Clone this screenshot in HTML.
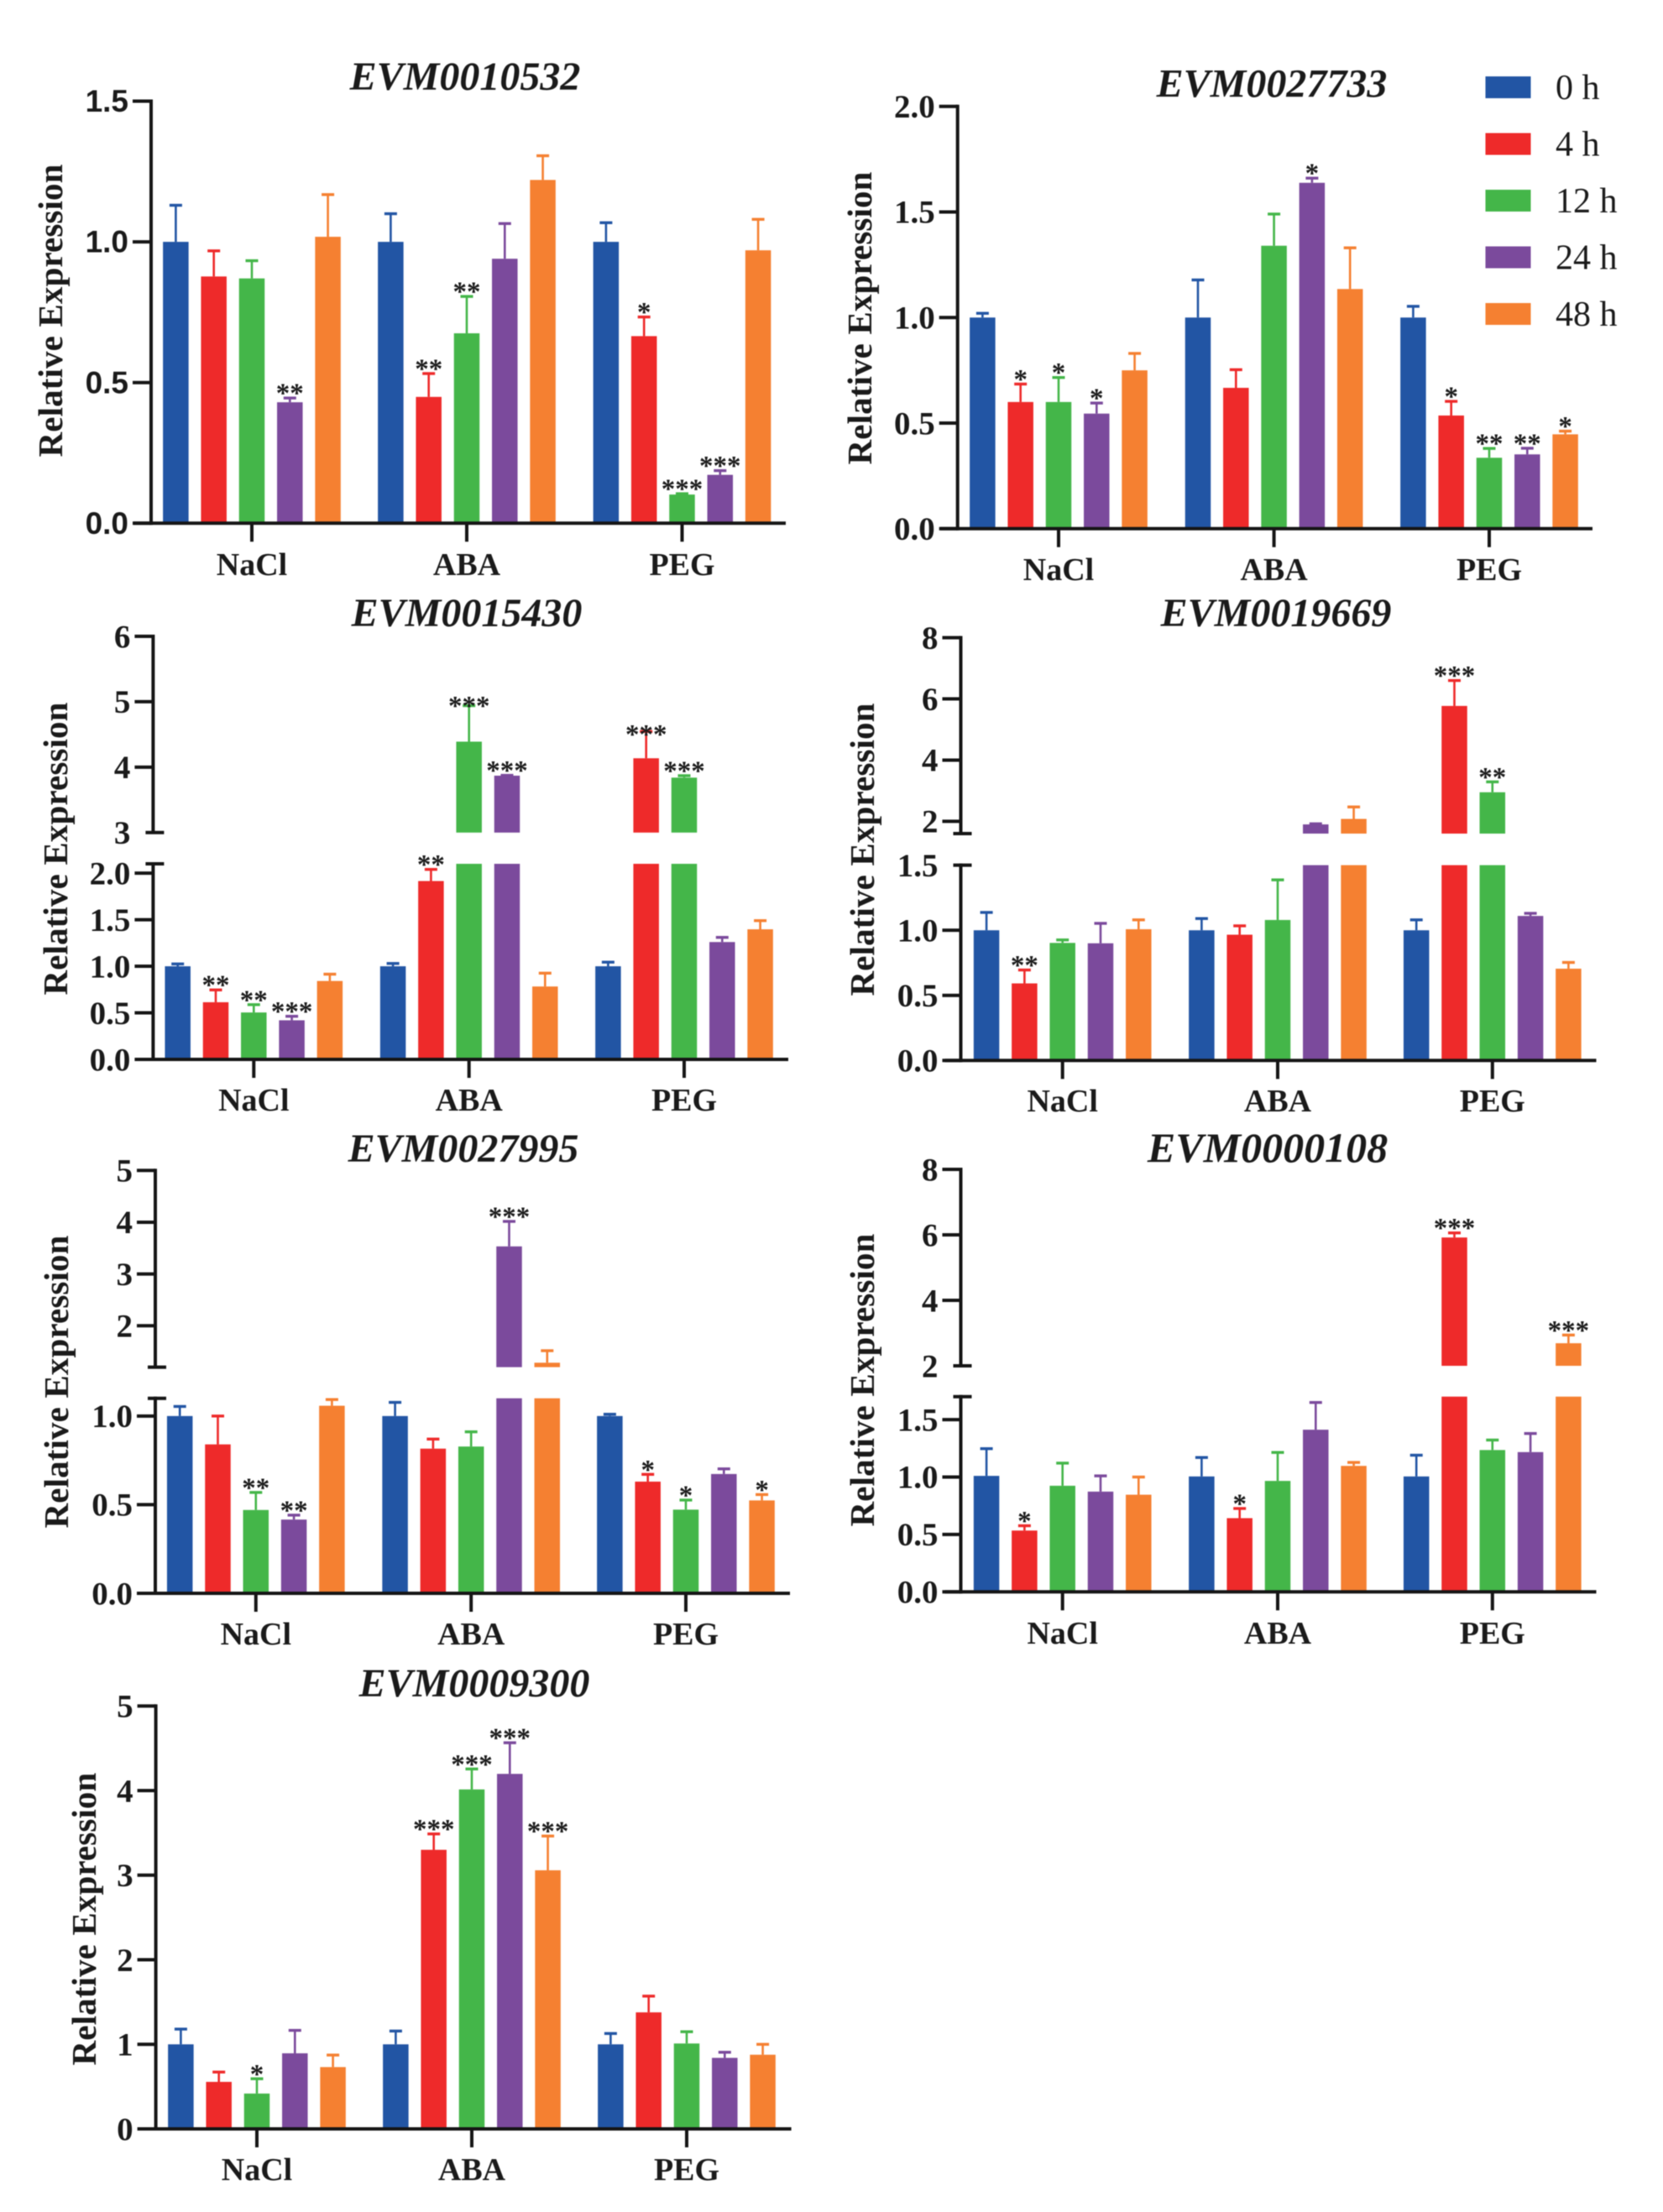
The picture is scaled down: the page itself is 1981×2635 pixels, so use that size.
<!DOCTYPE html>
<html lang="en">
<head>
<meta charset="utf-8">
<title>Relative Expression of EVM genes</title>
<style>
html,body{margin:0;padding:0;background:#fff;}
body{width:1981px;height:2635px;overflow:hidden;}
svg{display:block;filter:blur(0.6px);}
text{fill:#1a1a1a;}
</style>
</head>
<body>
<svg id="figure" xmlns="http://www.w3.org/2000/svg" width="1981" height="2635" viewBox="0 0 1981 2635"></svg>
<script>
const categories = ['NaCl', 'ABA', 'PEG'];
const timepoints = ['0 h', '4 h', '12 h', '24 h', '48 h'];
const seriesColors = ['#2255A4', '#EE2A2A', '#44B649', '#7B4A9C', '#F58031'];

const titles = ['EVM0010532', 'EVM0027733', 'EVM0015430', 'EVM0019669', 'EVM0027995', 'EVM0000108', 'EVM0009300'];

const means1 = [[1.0, 0.877, 0.87, 0.43, 1.018], [1.0, 0.449, 0.675, 0.94, 1.22], [1.0, 0.665, 0.102, 0.172, 0.97]];
const errTop1 = [[1.13, 0.968, 0.933, 0.445, 1.168], [1.10, 0.532, 0.806, 1.065, 1.306], [1.068, 0.733, 0.105, 0.187, 1.08]];
const stars1 = [['', '', '', '**', ''], ['', '**', '**', '', ''], ['', '*', '***', '***', '']];
const ticks1 = ['0.0', '0.5', '1.0', '1.5'];

const means2 = [[1.0, 0.6, 0.6, 0.545, 0.75], [1.0, 0.667, 1.34, 1.638, 1.135], [1.0, 0.536, 0.336, 0.352, 0.447]];
const errTop2 = [[1.02, 0.685, 0.716, 0.595, 0.83], [1.178, 0.753, 1.49, 1.66, 1.33], [1.053, 0.603, 0.38, 0.381, 0.462]];
const stars2 = [['', '*', '*', '*', ''], ['', '', '', '*', ''], ['', '*', '**', '**', '*']];
const ticks2 = ['0.0', '0.5', '1.0', '1.5', '2.0'];

const means3 = [[1.0, 0.614, 0.504, 0.42, 0.842], [1.0, 1.915, 4.39, 3.87, 0.783], [1.0, 4.136, 3.84, 1.26, 1.397]];
const errTop3 = [[1.025, 0.746, 0.588, 0.463, 0.915], [1.03, 2.04, 4.94, 3.875, 0.926], [1.044, 4.545, 3.87, 1.31, 1.49]];
const stars3 = [['', '**', '**', '***', ''], ['', '**', '***', '***', ''], ['', '***', '***', '', '']];
const ticks3Lower = ['0.0', '0.5', '1.0', '1.5', '2.0'];
const ticks3Upper = ['3', '4', '5', '6'];

const means4 = [[1.0, 0.592, 0.903, 0.9, 1.008], [1.0, 0.966, 1.079, 1.9, 2.08], [1.0, 5.77, 2.95, 1.11, 0.705]];
const errTop4 = [[1.137, 0.695, 0.926, 1.053, 1.08], [1.09, 1.034, 1.387, 1.92, 2.47], [1.08, 6.6, 3.29, 1.13, 0.753]];
const stars4 = [['', '**', '', '', ''], ['', '', '', '', ''], ['', '***', '**', '', '']];
const ticks4Lower = ['0.0', '0.5', '1.0', '1.5'];
const ticks4Upper = ['2', '4', '6', '8'];

const means5 = [[1.0, 0.84, 0.47, 0.416, 1.058], [1.0, 0.816, 0.828, 3.533, 1.286], [1.0, 0.63, 0.472, 0.673, 0.524]];
const errTop5 = [[1.054, 1.0, 0.569, 0.441, 1.093], [1.077, 0.87, 0.911, 4.016, 1.518], [1.01, 0.671, 0.526, 0.702, 0.557]];
const stars5 = [['', '', '**', '**', ''], ['', '', '', '***', ''], ['', '*', '*', '', '*']];
const ticks5Lower = ['0.0', '0.5', '1.0'];
const ticks5Upper = ['2', '3', '4', '5'];

const means6 = [[1.01, 0.534, 0.924, 0.873, 0.846], [1.005, 0.642, 0.966, 1.412, 1.097], [1.005, 5.92, 1.235, 1.217, 2.69]];
const errTop6 = [[1.247, 0.576, 1.121, 1.01, 1.0], [1.17, 0.726, 1.214, 1.649, 1.127], [1.19, 6.06, 1.322, 1.379, 2.94]];
const stars6 = [['', '*', '', '', ''], ['', '*', '', '', ''], ['', '***', '', '', '***']];
const ticks6Lower = ['0.0', '0.5', '1.0', '1.5'];
const ticks6Upper = ['2', '4', '6', '8'];

const means7 = [[1.0, 0.556, 0.418, 0.894, 0.731], [1.0, 3.3, 4.014, 4.198, 3.058], [1.0, 1.378, 1.01, 0.84, 0.877]];
const errTop7 = [[1.18, 0.672, 0.593, 1.165, 0.873], [1.157, 3.488, 4.256, 4.566, 3.463], [1.128, 1.57, 1.149, 0.906, 1.0]];
const stars7 = [['', '', '*', '', ''], ['', '***', '***', '***', '***'], ['', '', '', '', '']];
const ticks7 = ['0', '1', '2', '3', '4', '5'];

const panels = [
  {title: titles[0], means: means1, tops: errTop1, stars: stars1, lower: ticks1, upper: null, lowerMax: 1.5, upperMin: 0, upperMax: 0,
   axisX: 180, xStart: 159, xEnd: 936, xTicks: [300, 556, 812.5], base: 623.3, lowerTopY: 120.5, upperBottomY: 0, upperTopY: 0,
   titleX: 554, titleY: 107, catY: 685, labelX: 60, labelY: 370, tickFont: '"Liberation Sans", sans-serif', tickSize: 37},
  {title: titles[1], means: means2, tops: errTop2, stars: stars2, lower: ticks2, upper: null, lowerMax: 2.0, upperMin: 0, upperMax: 0,
   axisX: 1140.7, xStart: 1120, xEnd: 1897, xTicks: [1261, 1517.6, 1774], base: 629.8, lowerTopY: 126.7, upperBottomY: 0, upperTopY: 0,
   titleX: 1515, titleY: 115.5, catY: 691, labelX: 1024, labelY: 379},
  {title: titles[2], means: means3, tops: errTop3, stars: stars3, lower: ticks3Lower, upper: ticks3Upper, lowerMax: 2.1, upperMin: 3, upperMax: 6,
   axisX: 182.4, xStart: 161, xEnd: 939, xTicks: [302.3, 558.7, 815], base: 1262, lowerTopY: 1029, upperBottomY: 991.8, upperTopY: 758,
   titleX: 556, titleY: 746, catY: 1323, labelX: 66, labelY: 1011, starNudge: {'1,2': 6, '2,1': 9}},
  {title: titles[3], means: means4, tops: errTop4, stars: stars4, lower: ticks4Lower, upper: ticks4Upper, lowerMax: 1.5, upperMin: 1.6, upperMax: 8,
   axisX: 1144.5, xStart: 1125.4, xEnd: 1901.5, xTicks: [1265.7, 1522, 1777.8], base: 1263.3, lowerTopY: 1030.6, upperBottomY: 993, upperTopY: 759.6,
   titleX: 1520, titleY: 746, catY: 1324, labelX: 1027, labelY: 1012},
  {title: titles[4], means: means5, tops: errTop5, stars: stars5, lower: ticks5Lower, upper: ticks5Upper, lowerMax: 1.1, upperMin: 1.2, upperMax: 5,
   axisX: 185, xStart: 164, xEnd: 941, xTicks: [304.8, 561.2, 817], base: 1898, lowerTopY: 1665.7, upperBottomY: 1628.6, upperTopY: 1394.3,
   titleX: 552, titleY: 1384, catY: 1959, labelX: 67, labelY: 1646},
  {title: titles[5], means: means6, tops: errTop6, stars: stars6, lower: ticks6Lower, upper: ticks6Upper, lowerMax: 1.7, upperMin: 2, upperMax: 8,
   axisX: 1144.5, xStart: 1125.4, xEnd: 1901.5, xTicks: [1265.7, 1522, 1777.8], base: 1896.3, lowerTopY: 1663.7, upperBottomY: 1627, upperTopY: 1393,
   titleX: 1510, titleY: 1384, titleSize: 50, catY: 1958, labelX: 1027, labelY: 1644},
  {title: titles[6], means: means7, tops: errTop7, stars: stars7, lower: ticks7, upper: null, lowerMax: 5, upperMin: 0, upperMax: 0,
   axisX: 185.6, xStart: 164.5, xEnd: 942.6, xTicks: [306, 562, 818], base: 2536, lowerTopY: 2032.3, upperBottomY: 0, upperTopY: 0,
   titleX: 565, titleY: 2021, catY: 2597, labelX: 100, labelY: 2286}
];

const SVGNS = 'http://www.w3.org/2000/svg';
const SERIF = '"Liberation Serif", serif';
const root = document.getElementById('figure');

function make(tag, attrs, parent) {
  const node = document.createElementNS(SVGNS, tag);
  for (const key in attrs) node.setAttribute(key, attrs[key]);
  parent.appendChild(node);
  return node;
}

function yScale(p) {
  return function (v) {
    if (!p.upper || v <= p.lowerMax) {
      return p.base - (v / p.lowerMax) * (p.base - p.lowerTopY);
    }
    return p.upperBottomY - ((v - p.upperMin) / (p.upperMax - p.upperMin)) * (p.upperBottomY - p.upperTopY);
  };
}

function xScale(p, groupIndex, seriesIndex) {
  return p.xTicks[groupIndex] + (seriesIndex - 2) * 45.3;
}

function drawBar(g, p, y, cx, value, color) {
  const w = 30.5;
  if (p.upper && value > p.lowerMax) {
    const low = make('rect', {x: cx - w / 2, y: p.lowerTopY, width: w, height: p.base - p.lowerTopY, fill: color}, g);
    
    
    const up = make('rect', {x: cx - w / 2, y: y(value), width: w, height: p.upperBottomY - y(value), fill: color}, g);
    
    
  } else {
    const bar = make('rect', {x: cx - w / 2, y: y(value), width: w, height: p.base - y(value), fill: color}, g);
    
    
  }
}

function drawPanel(p) {
  const y = yScale(p);
  const g = make('g', {}, root);
  
  

  const title = make('text', {x: p.titleX, y: p.titleY, 'text-anchor': 'middle', 'font-family': SERIF, 'font-size': p.titleSize || 48, 'font-weight': 'bold', 'font-style': 'italic'}, g);
  title.textContent = p.title;
  
  

  const yTitle = make('text', {x: 0, y: 0, transform: 'translate(' + p.labelX + ' ' + p.labelY + ') rotate(-90)', 'text-anchor': 'middle', 'dominant-baseline': 'central', 'font-family': SERIF, 'font-size': 41, 'font-weight': 'bold', textLength: 349, lengthAdjust: 'spacing'}, g);
  yTitle.textContent = 'Relative Expression';
  
  

  p.means.forEach(function (groupMeans, gi) {
    groupMeans.forEach(function (value, si) {
      const cx = xScale(p, gi, si);
      const color = seriesColors[si];
      const top = p.tops[gi][si];
      drawBar(g, p, y, cx, value, color);

      const stem = make('line', {x1: cx, x2: cx, y1: y(value), y2: y(top), stroke: color, 'stroke-width': 2.6}, g);
      
      

      const cap = make('line', {x1: cx - 7.5, x2: cx + 7.5, y1: y(top), y2: y(top), stroke: color, 'stroke-width': 3.4}, g);
      
      

      const mark = p.stars[gi][si];
      if (mark) {
        const nudge = (p.starNudge && p.starNudge[gi + ',' + si]) || 0;
        const star = make('text', {x: cx, y: y(top) + 5 + nudge, 'text-anchor': 'middle', 'font-family': SERIF, 'font-size': 33, 'font-weight': 'bold'}, g);
        star.textContent = mark;
        
        
      }
    });
  });

  const axisStyle = {stroke: '#151515', 'stroke-width': 4};

  function axisLine(x1, y1, x2, y2) {
    return make('line', Object.assign({x1: x1, y1: y1, x2: x2, y2: y2}, axisStyle), g);
  }

  const yAxis = axisLine(p.axisX, p.base + 2, p.axisX, p.lowerTopY - 2);
  
  

  const xAxis = axisLine(p.xStart, p.base, p.xEnd, p.base);
  
  

  if (p.upper) {
    const upperAxis = axisLine(p.axisX, p.upperBottomY, p.axisX, p.upperTopY - 2);
    
    

    const capLow = axisLine(p.axisX - 9, p.lowerTopY, p.axisX + 13, p.lowerTopY);
    
    

    const capHigh = axisLine(p.axisX - 9, p.upperBottomY, p.axisX + 13, p.upperBottomY);
    
    
  }

  const font = p.tickFont || SERIF;
  const size = p.tickSize || 39;
  function drawYTick(label) {
    const v = parseFloat(label);
    const ty = y(v);
    const onBreak = p.upper && (Math.abs(ty - p.upperBottomY) < 1 || Math.abs(ty - p.lowerTopY) < 1);
    if (!onBreak) {
      const tick = axisLine(p.axisX - 22, ty, p.axisX, ty);
      
      
    }
    const t = make('text', {x: p.axisX - 27, y: ty + size * 0.34, 'text-anchor': 'end', 'font-family': font, 'font-size': size, 'font-weight': 'bold'}, g);
    t.textContent = label;
    
    
  }
  p.lower.forEach(drawYTick);
  if (p.upper) p.upper.forEach(drawYTick);

  categories.forEach(function (name, gi) {
    const tx = p.xTicks[gi];
    const tick = axisLine(tx, p.base, tx, p.base + 22);
    
    
    const lab = make('text', {x: tx, y: p.catY, 'text-anchor': 'middle', 'font-family': SERIF, 'font-size': 38, 'font-weight': 'bold'}, g);
    lab.textContent = name;
    
    
  });
}

panels.forEach(drawPanel);

const legend = make('g', {}, root);


timepoints.forEach(function (label, i) {
  const top = 91 + i * 67.5;
  const swatch = make('rect', {x: 1769.5, y: top, width: 54, height: 26, fill: seriesColors[i]}, legend);
  
  
  const text = make('text', {x: 1853, y: top + 27, 'font-family': SERIF, 'font-size': 42}, legend);
  text.textContent = label;
  
  
});
</script>
</body>
</html>
